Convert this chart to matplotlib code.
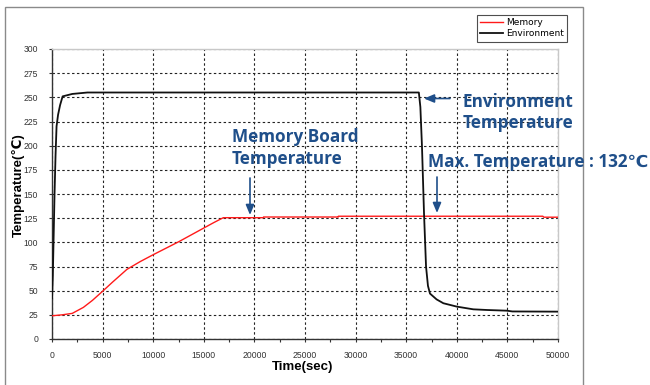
import matplotlib
matplotlib.use("Agg")
import matplotlib.pyplot as plt
from matplotlib.patches import Rectangle
from matplotlib.ticker import MultipleLocator

# ---- data ----
env_t = [0, 80, 150, 250, 350, 450, 600, 800, 1050, 2000, 3500, 36250, 36400, 36560,
         36760, 36960, 37150, 37350, 38000, 38670, 40000, 41630, 43000, 44930, 45500, 50000]
env_T = [42, 65, 100, 150, 190, 220, 232, 242, 251, 253.5, 255, 255, 240, 199,
         130, 75, 55, 47, 41, 37, 33.5, 30.7, 30, 29.3, 28.5, 28.3]

mem_t = [0, 1000, 2000, 3100, 4000, 5000, 6000, 7400, 8700, 10000, 12500, 15000, 16000,
         16930, 20880, 20900, 28290, 28300, 48500, 48600, 50000]
mem_T = [24, 25, 26.5, 32.7, 40, 49.4, 59, 72, 80, 87.2, 100.5, 114.8, 120.5,
         125.5, 125.5, 126.2, 126.2, 127, 127, 126, 126]

x_ticks = [0, 5000, 10000, 15000, 20000, 25000, 30000, 35000, 40000, 45000, 50000]
y_ticks = [0, 25, 50, 75, 100, 125, 150, 175, 200, 225, 250, 275, 300]

W, H = 650, 385
fig = plt.figure(figsize=(W / 100, H / 100), dpi=100)
fig.patch.set_facecolor("white")

# outer frame
fig.add_artist(Rectangle((5 / W, -0.05), (583 - 5) / W, 1.05 - 7 / H,
                         transform=fig.transFigure, fill=False,
                         edgecolor="#8a8a8a", lw=1.0))

ax = fig.add_axes([52 / W, (H - 339) / H, (558 - 52) / W, (339 - 49) / H])

ax.plot(mem_t, mem_T, color="#ff1a1a", lw=1.0, label="Memory", zorder=3)
ax.plot(env_t, env_T, color="#111111", lw=1.3, label="Environment", zorder=3)

ax.set_xlim(0, 50000)
ax.set_ylim(0, 300)
ax.set_xticks(x_ticks)
ax.set_yticks(y_ticks)
ax.xaxis.set_minor_locator(MultipleLocator(2500))
ax.tick_params(axis="both", which="both", direction="out", length=2.5, width=0.8,
               labelsize=6.2, colors="#333333")
ax.tick_params(axis="x", pad=6)
ax.tick_params(axis="y", pad=7.5)
for lab in ax.get_xticklabels() + ax.get_yticklabels():
    lab.set_family(["Liberation Sans", "DejaVu Sans"])
ax.grid(True, which="major", color="#222222", linestyle=(0, (2.2, 2.2)), lw=0.8)

for s in ["left", "bottom"]:
    ax.spines[s].set_color("#333333")
    ax.spines[s].set_linewidth(1.0)
for s in ["top", "right"]:
    ax.spines[s].set_color("#c8c8c8")
    ax.spines[s].set_linewidth(1.0)

lab_font = ["Liberation Sans", "DejaVu Sans"]
ax.set_xlabel("Time(sec)", fontsize=9.5, fontweight="bold", family=lab_font)
ax.set_ylabel("Temperature(\u2103)", fontsize=9.5, fontweight="bold", family=lab_font)
ax.xaxis.set_label_coords((303 - 52) / 506, (339 - 367) / 290)
ax.yaxis.set_label_coords((18 - 52) / 506, (339 - 185) / 290)
ax.xaxis.label.set_va("center")
ax.yaxis.label.set_va("center")

leg = fig.legend(loc="upper right", bbox_to_anchor=(567 / W, 1 - 15 / H),
                 fontsize=6.5, frameon=True, fancybox=False, edgecolor="#222222",
                 handlelength=2.6, handletextpad=0.3, borderpad=0.35,
                 labelspacing=0.25, borderaxespad=0)
leg.get_frame().set_linewidth(0.8)

blue = "#1f4f8a"
ann_font = ["Open Sans", "DejaVu Sans"]
fs = 12.3

def fx(px):
    return px / W

def fy(py):
    return 1 - py / H

fig.text(fx(463), fy(102), "Environment", fontsize=fs, color=blue, fontweight="bold",
         family=ann_font, va="center", ha="left")
fig.text(fx(463), fy(123), "Temperature", fontsize=fs, color=blue, fontweight="bold",
         family=ann_font, va="center", ha="left")
fig.text(fx(232), fy(137), "Memory Board", fontsize=fs, color=blue, fontweight="bold",
         family=ann_font, va="center", ha="left")
fig.text(fx(232), fy(159), "Temperature", fontsize=fs, color=blue, fontweight="bold",
         family=ann_font, va="center", ha="left")
fig.text(fx(428), fy(162), "Max. Temperature : 132\u2103", fontsize=fs, color=blue,
         fontweight="bold", family=ann_font, va="center", ha="left")

arrow = dict(arrowstyle="-|>,head_length=0.6,head_width=0.25", color=blue, lw=1.2,
             shrinkA=0, shrinkB=0)
ax.annotate("", xy=(fx(424), fy(98.5)), xycoords="figure fraction",
            xytext=(fx(450), fy(98.5)), textcoords="figure fraction", arrowprops=arrow)
ax.annotate("", xy=(fx(250), fy(215)), xycoords="figure fraction",
            xytext=(fx(250), fy(178)), textcoords="figure fraction", arrowprops=arrow)
ax.annotate("", xy=(fx(437), fy(213)), xycoords="figure fraction",
            xytext=(fx(437), fy(177)), textcoords="figure fraction", arrowprops=arrow)

fig.savefig("out.png", dpi=100)
